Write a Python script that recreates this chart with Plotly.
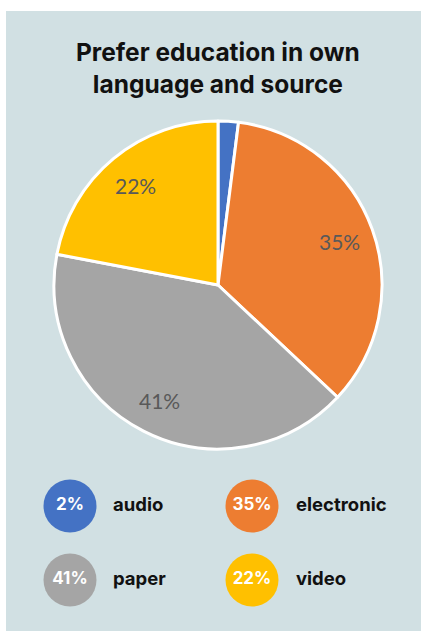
import math
import plotly.graph_objects as go

categories = ["audio", "electronic", "paper", "video"]
values = [2, 35, 41, 22]
colors = ["#4472C4", "#ED7D31", "#A5A5A5", "#FFC000"]
show_slice_label = [False, True, True, True]
legend_pct = ["2%", "35%", "41%", "22%"]

# legend layout positions (pixels)
leg_cx = [70, 252, 70, 252]
leg_cy = [506, 506, 580, 580]
leg_tx = [113, 296, 113, 296]

W, H = 425, 631
PIE_CX, PIE_CY, PIE_R = 218, 285, 164
LABEL_FRAC = 0.79

fig = go.Figure()

fig.add_trace(go.Pie(
    labels=categories, values=values, sort=False, direction="clockwise", rotation=0,
    marker=dict(colors=colors, line=dict(color="white", width=3)),
    textinfo="none",
    domain=dict(x=[(PIE_CX - PIE_R) / W, (PIE_CX + PIE_R) / W],
                y=[1 - (PIE_CY + PIE_R) / H, 1 - (PIE_CY - PIE_R) / H]),
    showlegend=False, hoverinfo="label+percent",
))

# slice labels placed along each slice's mid-angle
total = sum(values)
annotations = []
cum = 0
for v, show in zip(values, show_slice_label):
    mid = (cum + v / 2) / total * 2 * math.pi
    cum += v
    if not show:
        continue
    x = PIE_CX + LABEL_FRAC * PIE_R * math.sin(mid)
    y = PIE_CY - LABEL_FRAC * PIE_R * math.cos(mid)
    annotations.append(dict(text=f"{round(v / total * 100)}%", xref="paper", yref="paper",
                            x=x / W, y=1 - y / H, xanchor="center", yanchor="middle",
                            showarrow=False,
                            font=dict(family="Lato", size=21, color="#595959")))

fig.add_trace(go.Scatter(
    x=leg_cx, y=leg_cy, mode="markers+text", text=legend_pct,
    textposition="middle center",
    marker=dict(size=53, color=colors, line=dict(width=0)),
    textfont=dict(family="Inter", size=17, color="white", weight="bold"),
    showlegend=False, hoverinfo="skip", cliponaxis=False,
))

fig.add_trace(go.Scatter(
    x=leg_tx, y=leg_cy, mode="text", text=categories,
    textposition="middle right",
    textfont=dict(family="Inter", size=18.5, color="#111111", weight="bold"),
    showlegend=False, hoverinfo="skip", cliponaxis=False,
))

annotations.append(dict(text="Prefer education in own<br>language and source",
                        xref="paper", yref="paper", x=218 / W, y=1 - 68 / H,
                        xanchor="center", yanchor="middle", showarrow=False,
                        font=dict(family="Inter", size=24.5, color="#111111", weight="bold")))

fig.update_layout(
    width=W, height=H, margin=dict(l=0, r=0, t=0, b=0),
    paper_bgcolor="white", plot_bgcolor="rgba(0,0,0,0)",
    xaxis=dict(range=[0, W], visible=False, domain=[0, 1], fixedrange=True),
    yaxis=dict(range=[H, 0], visible=False, domain=[0, 1], fixedrange=True),
    shapes=[dict(type="rect", xref="paper", yref="paper", layer="below",
                 x0=6 / W, x1=421 / W, y0=0, y1=1 - 11 / H,
                 fillcolor="#D1E0E3", line=dict(width=0))],
    annotations=annotations,
)

fig.write_html("out.html")
